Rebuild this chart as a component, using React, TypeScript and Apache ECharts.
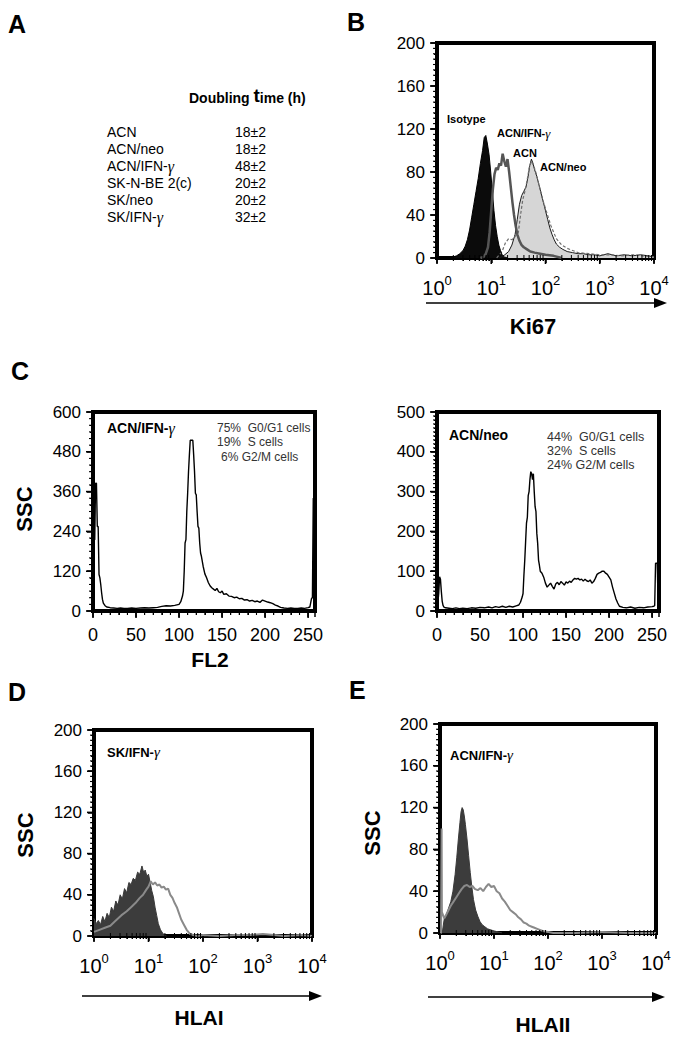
import React, { useEffect, useRef } from 'react';
import * as echarts from 'echarts';

const FONT = '"Liberation Sans", Arial, Helvetica, sans-serif';
const SERIF = '"Liberation Serif", "DejaVu Serif", serif';

// ---------- Panel A: doubling time table ----------
const cellLines = ['ACN', 'ACN/neo', 'ACN/IFN-γ', 'SK-N-BE 2(c)', 'SK/neo', 'SK/IFN-γ'];
const doublingTimes = ['18±2', '18±2', '48±2', '20±2', '20±2', '32±2'];

// ---------- Panel B: Ki67 (x = log10 fluorescence) ----------
const bIsoLog = [0.0, 0.2, 0.3, 0.36, 0.42, 0.48, 0.52, 0.56, 0.6, 0.64, 0.68, 0.72, 0.76, 0.8, 0.84, 0.87, 0.9, 0.93, 0.96, 0.99, 1.02, 1.05, 1.08, 1.11, 1.14, 1.17, 1.2, 1.24, 1.3];
const bIsoCount = [0, 0, 1, 2, 4, 7, 11, 17, 26, 38, 50, 62, 74, 88, 100, 112, 114, 106, 96, 80, 62, 44, 30, 20, 12, 7, 3, 1, 0];

const bIfnLog = [0.8, 0.86, 0.9, 0.94, 0.97, 1.0, 1.03, 1.06, 1.09, 1.12, 1.15, 1.18, 1.21, 1.24, 1.27, 1.3, 1.33, 1.36, 1.39, 1.42, 1.45, 1.48, 1.52, 1.56, 1.6, 1.66, 1.72, 1.8, 1.9, 2.0, 2.15, 2.3];
const bIfnCount = [0, 1, 4, 10, 24, 44, 64, 78, 84, 82, 88, 86, 97, 90, 85, 92, 80, 66, 52, 40, 30, 22, 16, 12, 10, 8, 6, 5, 4, 3, 2, 0];

const bAcnLog = [1.1, 1.2, 1.26, 1.32, 1.38, 1.44, 1.5, 1.54, 1.58, 1.62, 1.66, 1.7, 1.74, 1.78, 1.82, 1.86, 1.9, 1.95, 2.0, 2.05, 2.1, 2.15, 2.2, 2.3, 2.4, 2.5, 2.6, 2.8, 3.0, 3.2, 3.4, 3.6, 3.8, 4.0];
const bAcnCount = [0, 6, 14, 18, 17, 20, 24, 40, 54, 62, 72, 84, 90, 86, 80, 72, 64, 54, 46, 38, 30, 24, 18, 12, 9, 7, 5, 4, 3, 3, 2, 3, 2, 1];

const bNeoLog = [1.15, 1.25, 1.32, 1.38, 1.44, 1.48, 1.52, 1.56, 1.6, 1.64, 1.68, 1.71, 1.74, 1.77, 1.8, 1.84, 1.88, 1.92, 1.96, 2.0, 2.04, 2.08, 2.12, 2.16, 2.2, 2.26, 2.32, 2.4, 2.5, 2.6, 2.7, 2.8, 2.9, 3.0, 3.15, 3.3, 3.45, 3.6, 3.75, 3.9, 4.0];
const bNeoCount = [0, 3, 6, 12, 22, 36, 50, 58, 62, 66, 76, 86, 92, 88, 82, 76, 68, 60, 52, 44, 36, 28, 22, 17, 13, 10, 8, 6, 5, 4, 4, 3, 3, 2, 4, 2, 3, 2, 3, 2, 1];

// ---------- Panel C: cell cycle (FL2 channel) ----------
const cIfnCh = [0, 2, 3, 4, 5, 6, 7, 8, 9, 10, 11, 12, 14, 16, 20, 24, 28, 32, 36, 40, 45, 50, 55, 60, 65, 70, 75, 80, 85, 90, 95, 100, 102, 104, 105, 106, 107, 108, 109, 110, 111, 112, 113, 114, 115, 116, 117, 118, 119, 120, 121, 122, 123, 124, 125, 126, 128, 130, 132, 134, 136, 138, 140, 142, 144, 146, 148, 150, 152, 155, 158, 161, 164, 167, 170, 173, 176, 179, 182, 185, 188, 191, 194, 197, 200, 203, 206, 209, 212, 215, 218, 222, 226, 230, 234, 238, 242, 246, 250, 252, 254, 255, 256, 258];
const cIfnCount = [215, 215, 385, 385, 255, 255, 110, 100, 80, 55, 35, 24, 16, 12, 10, 9, 8, 9, 8, 8, 9, 8, 9, 10, 9, 10, 11, 14, 16, 15, 17, 20, 28, 45, 60, 120, 205, 215, 300, 355, 420, 470, 515, 515, 515, 515, 470, 420, 355, 350, 300, 255, 250, 205, 175, 165, 135, 112, 100, 86, 76, 70, 66, 62, 68, 58, 55, 60, 50, 52, 45, 44, 40, 42, 37, 38, 33, 34, 30, 32, 28, 30, 26, 33, 30, 27, 25, 22, 18, 15, 11, 9, 8, 9, 8, 8, 9, 8, 10, 12, 38, 40, 340, 340];

const cNeoCh = [0, 1, 2, 3, 4, 5, 6, 7, 8, 10, 14, 18, 22, 26, 30, 35, 40, 45, 50, 55, 60, 64, 68, 72, 76, 80, 84, 88, 92, 95, 97, 99, 100, 101, 102, 103, 104, 105, 106, 107, 108, 109, 110, 111, 112, 113, 114, 115, 116, 117, 118, 119, 120, 122, 124, 126, 128, 130, 132, 134, 136, 138, 140, 142, 144, 146, 148, 150, 152, 154, 156, 158, 160, 162, 164, 166, 168, 170, 172, 174, 176, 178, 180, 182, 184, 186, 188, 190, 192, 194, 196, 198, 200, 202, 204, 206, 208, 210, 212, 216, 220, 225, 230, 235, 240, 245, 250, 252, 253, 254, 256, 257, 258];
const cNeoCount = [10, 20, 45, 86, 80, 50, 25, 14, 10, 8, 7, 6, 8, 6, 7, 6, 8, 7, 9, 8, 10, 8, 11, 9, 12, 9, 12, 10, 13, 15, 22, 35, 44, 90, 128, 175, 221, 235, 290, 300, 330, 350, 345, 330, 345, 300, 262, 250, 195, 170, 128, 115, 100, 95, 85, 70, 60, 65, 70, 62, 55, 68, 72, 66, 74, 70, 65, 73, 70, 75, 72, 78, 82, 80, 82, 78, 80, 75, 80, 76, 74, 78, 70, 74, 82, 92, 95, 97, 100, 100, 95, 92, 85, 78, 60, 45, 30, 20, 12, 9, 8, 10, 7, 9, 8, 10, 11, 12, 14, 120, 120, 8, 8];

// ---------- Panel D: HLA I, SK/IFN-γ ----------
const dFillLog = [0, 0.04, 0.08, 0.12, 0.16, 0.2, 0.24, 0.28, 0.32, 0.36, 0.4, 0.44, 0.48, 0.52, 0.56, 0.6, 0.64, 0.68, 0.72, 0.76, 0.8, 0.84, 0.88, 0.91, 0.94, 0.97, 1.0, 1.03, 1.06, 1.09, 1.12, 1.15, 1.18, 1.22, 1.27, 1.33];
const dFillCount = [17, 12, 15, 11, 19, 14, 22, 18, 28, 24, 34, 30, 40, 36, 46, 42, 52, 50, 56, 54, 62, 60, 68, 62, 64, 58, 60, 52, 44, 38, 28, 20, 12, 6, 2, 0];
const dLineLog = [0, 0.1, 0.2, 0.3, 0.4, 0.5, 0.6, 0.68, 0.76, 0.84, 0.9, 0.96, 1.0, 1.04, 1.08, 1.12, 1.16, 1.2, 1.24, 1.28, 1.32, 1.36, 1.4, 1.44, 1.48, 1.52, 1.56, 1.6, 1.65, 1.7, 1.76, 1.82, 1.9, 2.0, 2.3, 2.6, 2.9, 3.1, 3.3, 3.5, 3.8, 4.0];
const dLineCount = [4, 6, 8, 10, 15, 20, 24, 28, 32, 37, 40, 45, 48, 53, 50, 52, 49, 50, 47, 48, 45, 46, 40, 37, 32, 28, 22, 16, 11, 6, 2, 1, 0, 1, 0, 1, 1, 2, 1, 0, 1, 0];

// ---------- Panel E: HLA II, ACN/IFN-γ ----------
const eFillLog = [0.04, 0.08, 0.12, 0.16, 0.2, 0.24, 0.28, 0.31, 0.34, 0.37, 0.39, 0.41, 0.43, 0.45, 0.47, 0.5, 0.53, 0.56, 0.59, 0.62, 0.66, 0.7, 0.74, 0.78, 0.83, 0.88, 0.94, 1.0, 1.08, 1.15];
const eFillCount = [0, 14, 18, 24, 30, 40, 56, 72, 90, 106, 116, 120, 118, 112, 104, 90, 74, 58, 44, 32, 22, 16, 11, 8, 6, 4, 3, 2, 1, 0];
const eLineLog = [0, 0.02, 0.03, 0.035, 0.08, 0.12, 0.16, 0.2, 0.25, 0.3, 0.35, 0.4, 0.45, 0.5, 0.55, 0.6, 0.65, 0.7, 0.75, 0.8, 0.85, 0.9, 0.95, 1.0, 1.05, 1.1, 1.15, 1.2, 1.25, 1.3, 1.35, 1.4, 1.45, 1.5, 1.55, 1.6, 1.65, 1.7, 1.75, 1.8, 1.9, 2.0, 2.1, 2.5, 3.0, 3.5, 4.0];
const eLineCount = [0, 0, 100, 20, 14, 18, 22, 26, 30, 34, 38, 42, 45, 46, 44, 45, 42, 41, 43, 40, 44, 47, 44, 45, 40, 38, 33, 30, 26, 22, 20, 18, 15, 13, 10, 9, 7, 6, 5, 4, 2, 1, 0, 0, 1, 0, 0];

// axis tick specs per grid: [yMax, yMajorStep, yMinorStep, xKind]
const panelAxes = [
  { yMax: 200, yMajor: 40, yMinor: 5, log: true },
  { yMax: 600, yMajor: 120, yMinor: 20, log: false },
  { yMax: 500, yMajor: 100, yMinor: 10, log: false },
  { yMax: 200, yMajor: 40, yMinor: 5, log: true },
  { yMax: 200, yMajor: 40, yMinor: 5, log: true },
];

const logPairs = (xs: number[], ys: number[]) => xs.map((e, i) => [Math.pow(10, e), ys[i]]);
const linPairs = (xs: number[], ys: number[]) => xs.map((x, i) => [x, ys[i]]);

const gridBox = (left: number, top: number, width: number, height: number) => ({
  left, top, width, height, show: true, borderColor: '#000', borderWidth: 4,
});

const axLine = () => ({ show: true, lineStyle: { color: '#000', width: 2 } });
const tick = (len: number) => ({ show: true, length: len, lineStyle: { color: '#000', width: 1.5 } });
const minor = (split: number, len: number) => ({ show: true, splitNumber: split, length: len, lineStyle: { color: '#000', width: 1 } });

const yAx = (gridIndex: number, max: number, interval: number, minorSplit: number) => ({
  type: 'value', gridIndex, min: 0, max, interval,
  axisLine: axLine(),
  axisTick: tick(6),
  minorTick: minor(minorSplit, 3),
  axisLabel: { fontFamily: FONT, fontSize: 17, color: '#000', margin: 12 },
  splitLine: { show: false },
});

const logX = (gridIndex: number) => ({
  type: 'log', logBase: 10, gridIndex, min: 1, max: 10000,
  axisLine: axLine(),
  axisTick: tick(5),
  minorTick: minor(9, 3),
  axisLabel: {
    margin: 16,
    formatter: (v: number) => `{b|10}{s|${Math.round(Math.log10(v))}}`,
    rich: {
      b: { fontFamily: FONT, fontSize: 20, color: '#000', lineHeight: 24, verticalAlign: 'bottom' },
      s: { fontFamily: FONT, fontSize: 13, color: '#000', lineHeight: 13, verticalAlign: 'top' },
    },
  },
  splitLine: { show: false },
});

const chX = (gridIndex: number) => ({
  type: 'value', gridIndex, min: 0, max: 258, interval: 50,
  axisLine: axLine(),
  axisTick: tick(6),
  minorTick: minor(5, 4),
  axisLabel: {
    fontFamily: FONT, fontSize: 18, color: '#000', margin: 15, showMaxLabel: false,
    formatter: (v: number) => (v % 50 === 0 ? String(v) : ''),
  },
  splitLine: { show: false },
});

const txt = (x: number, y: number, text: string, size: number, bold = false, extra: any = {}) => ({
  type: 'text', x, y, silent: true,
  style: {
    text, fill: '#000', fontFamily: FONT, fontSize: size, fontWeight: bold ? 'bold' : 'normal',
    textAlign: 'left', textVerticalAlign: 'middle', ...extra,
  },
});

const gammaText = (x: number, y: number, prefix: string, size: number, bold: boolean) => ({
  type: 'text', x, y, silent: true,
  style: {
    text: `{a|${prefix}}{g|γ}`, textAlign: 'left', textVerticalAlign: 'middle',
    rich: {
      a: { fontFamily: FONT, fontSize: size, fontWeight: bold ? 'bold' : 'normal', fill: '#000', color: '#000' },
      g: { fontFamily: SERIF, fontSize: size + 2, fontStyle: 'italic', fill: '#000', color: '#000' },
    },
  },
});

const arrow = (x1: number, x2: number, y: number) => [
  { type: 'line', silent: true, shape: { x1, y1: y, x2: x2 - 10, y2: y }, style: { stroke: '#000', lineWidth: 1.5 } },
  { type: 'polygon', silent: true, shape: { points: [[x2 - 13, y - 5], [x2, y], [x2 - 13, y + 5]] }, style: { fill: '#000' } },
];

function buildGraphics() {
  const graphics: any[] = [];
  graphics.push(txt(8, 24, 'A', 25, true));
  graphics.push(txt(347, 22, 'B', 25, true));
  graphics.push(txt(11, 371, 'C', 25, true));
  graphics.push(txt(8, 692, 'D', 25, true));
  graphics.push(txt(349, 690, 'E', 25, true));

  graphics.push({
    type: 'text', x: 189, y: 95, silent: true,
    style: {
      text: '{a|Doubling }{t|t}{a|ime (h)}', textAlign: 'left', textVerticalAlign: 'middle',
      rich: {
        a: { fontFamily: FONT, fontSize: 14, fontWeight: 'bold', color: '#000', lineHeight: 16, verticalAlign: 'bottom' },
        t: { fontFamily: FONT, fontSize: 19, fontWeight: 'bold', color: '#000', lineHeight: 20, verticalAlign: 'bottom' },
      },
    },
  });
  const rowY = [132, 149, 166, 183, 200, 217];
  cellLines.forEach((name, i) => {
    if (name.endsWith('γ')) graphics.push(gammaText(107, rowY[i], name.slice(0, -1), 14, false));
    else graphics.push(txt(107, rowY[i], name, 14));
    graphics.push(txt(235, rowY[i], doublingTimes[i], 14));
  });

  graphics.push(txt(447, 119, 'Isotype', 11, true));
  graphics.push(gammaText(497, 133, 'ACN/IFN-', 11, true));
  graphics.push(txt(513, 153, 'ACN', 11, true));
  graphics.push(txt(540, 167, 'ACN/neo', 11, true));
  graphics.push(...arrow(426, 667, 303));
  graphics.push(txt(533, 326, 'Ki67', 22, true, { textAlign: 'center' }));

  graphics.push(gammaText(107, 428, 'ACN/IFN-', 14, true));
  graphics.push(txt(217, 428, '75%  G0/G1 cells', 12, false, { fill: '#333' }));
  graphics.push(txt(217, 442, '19%  S cells', 12, false, { fill: '#333' }));
  graphics.push(txt(221, 457, '6% G2/M cells', 12, false, { fill: '#333' }));
  graphics.push(txt(449, 435, 'ACN/neo', 14, true));
  graphics.push(txt(547, 437, '44%  G0/G1 cells', 12.5, false, { fill: '#333' }));
  graphics.push(txt(547, 451, '32%  S cells', 12.5, false, { fill: '#333' }));
  graphics.push(txt(547, 465, '24% G2/M cells', 12.5, false, { fill: '#333' }));
  graphics.push(txt(210, 659, 'FL2', 21, true, { textAlign: 'center' }));

  graphics.push(gammaText(107, 752, 'SK/IFN-', 13, true));
  graphics.push(gammaText(450, 755, 'ACN/IFN-', 13, true));
  graphics.push(...arrow(82, 322, 996));
  graphics.push(...arrow(428, 665, 997));
  graphics.push(txt(199, 1017, 'HLAI', 21, true, { textAlign: 'center' }));
  graphics.push(txt(543, 1024, 'HLAII', 21, true, { textAlign: 'center' }));

  [[24, 509], [25, 835], [372, 833]].forEach(([x, y]) => {
    graphics.push({ ...txt(x, y, 'SSC', 22, true, { textAlign: 'center' }), rotation: Math.PI / 2 });
  });
  return graphics;
}

// tick marks positioned through the chart's own axis scales
function buildTicks(chart: any) {
  const out: any[] = [];
  const seg = (x1: number, y1: number, x2: number, y2: number, w: number) =>
    out.push({ type: 'line', silent: true, shape: { x1, y1, x2, y2 }, style: { stroke: '#000', lineWidth: w } });
  panelAxes.forEach((ax, gi) => {
    const x0 = ax.log ? 1 : 0;
    const px = (x: number, y: number) => chart.convertToPixel({ gridIndex: gi }, [x, y]);
    // y ticks
    for (let v = 0; v <= ax.yMax + 1e-9; v += ax.yMinor) {
      const p = px(x0, v);
      if (!p) continue;
      const major = Math.abs(v / ax.yMajor - Math.round(v / ax.yMajor)) < 1e-9;
      seg(p[0] - (major ? 7 : 4), p[1], p[0], p[1], major ? 1.6 : 1.1);
    }
    // x ticks
    if (ax.log) {
      for (let d = 0; d <= 4; d++) {
        const p = px(Math.pow(10, d), 0);
        if (p) seg(p[0], p[1], p[0], p[1] + 6, 1.6);
        if (d < 4) {
          for (let m = 2; m <= 9; m++) {
            const q = px(m * Math.pow(10, d), 0);
            if (q) seg(q[0], q[1] - 3, q[0], q[1] + 3, 1);
          }
        }
      }
    } else {
      for (let v = 0; v <= 250; v += 10) {
        const p = px(v, 0);
        if (!p) continue;
        const major = v % 50 === 0;
        seg(p[0], p[1], p[0], p[1] + (major ? 7 : 4), major ? 1.6 : 1.1);
      }
    }
  });
  return out;
}

function buildOption() {
  const line = (name: string, xi: number, data: any[], color: string, width: number, extra: any = {}) => ({
    name, type: 'line', xAxisIndex: xi, yAxisIndex: xi, data, symbol: 'none', smooth: false,
    lineStyle: { color, width }, ...extra,
  });

  const series: any[] = [
    line('ACN/neo', 0, logPairs(bNeoLog, bNeoCount), '#1a1a1a', 1, { areaStyle: { color: '#d6d6d6', opacity: 1 } }),
    line('ACN', 0, logPairs(bAcnLog, bAcnCount), '#6e6e6e', 1.2, { lineStyle: { color: '#6e6e6e', width: 1.2, type: [3, 2] } }),
    line('Isotype', 0, logPairs(bIsoLog, bIsoCount), '#000', 1, { areaStyle: { color: '#0b0b0b', opacity: 1 } }),
    line('ACN/IFN-γ', 0, logPairs(bIfnLog, bIfnCount), '#555', 2.5),
    line('ACN/IFN-γ cell cycle', 1, linPairs(cIfnCh, cIfnCount), '#000', 1.4),
    line('ACN/neo cell cycle', 2, linPairs(cNeoCh, cNeoCount), '#000', 1.4),
    line('SK/IFN-γ HLAI fill', 3, logPairs(dFillLog, dFillCount), '#3a3a3a', 1, { areaStyle: { color: '#3c3c3c', opacity: 1 } }),
    line('SK/IFN-γ HLAI', 3, logPairs(dLineLog, dLineCount), '#8a8a8a', 2),
    line('ACN/IFN-γ HLAII fill', 4, logPairs(eFillLog, eFillCount), '#3a3a3a', 1, { areaStyle: { color: '#3c3c3c', opacity: 1 } }),
    line('ACN/IFN-γ HLAII', 4, logPairs(eLineLog, eLineCount), '#8a8a8a', 2),
  ];

  return {
    animation: false,
    grid: [
      gridBox(437, 43, 217, 215),
      gridBox(93, 412, 222, 199),
      gridBox(437, 412, 222, 199),
      gridBox(94, 730, 218, 206),
      gridBox(440, 724, 216, 209),
    ],
    xAxis: [logX(0), chX(1), chX(2), logX(3), logX(4)],
    yAxis: panelAxes.map((ax, gi) => yAx(gi, ax.yMax, ax.yMajor, ax.yMajor / ax.yMinor)),
    series,
  };
}

export default function App() {
  const ref = useRef<HTMLDivElement>(null);
  const overlayRef = useRef<HTMLDivElement>(null);
  useEffect(() => {
    if (!ref.current || !overlayRef.current) return;
    const chart = echarts.init(ref.current, null, { renderer: 'svg' });
    chart.setOption(buildOption() as any);
    let ticks: any[] = [];
    try {
      ticks = buildTicks(chart);
    } catch (e) {
      ticks = [];
    }
    const overlay = echarts.init(overlayRef.current, null, { renderer: 'svg' });
    overlay.setOption({ animation: false, graphic: [...ticks, ...buildGraphics()] } as any);
    return () => {
      chart.dispose();
      overlay.dispose();
    };
  }, []);
  return (
    <div style={{ position: 'absolute', left: 0, top: 0, width: 685, height: 1042, background: '#fff' }}>
      <div ref={ref} style={{ position: 'absolute', left: 0, top: 0, width: 685, height: 1042 }} />
      <div ref={overlayRef} style={{ position: 'absolute', left: 0, top: 0, width: 685, height: 1042, pointerEvents: 'none' }} />
    </div>
  );
}
